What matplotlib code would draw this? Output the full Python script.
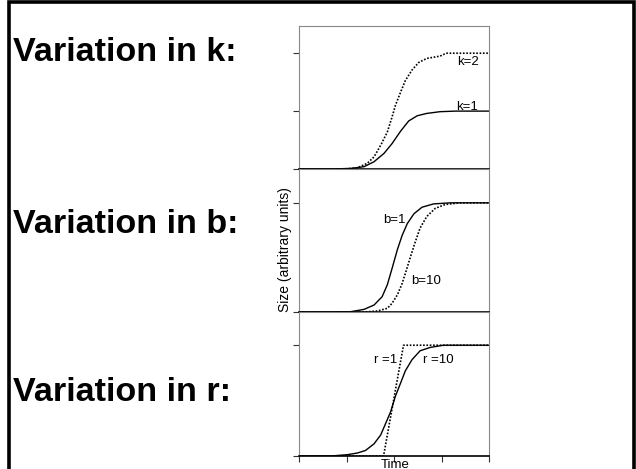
# Growth curve sketch: variation in k, b and r

import matplotlib.pyplot as plt
from matplotlib.patches import Rectangle

plt.rcParams['font.family'] = ['Liberation Sans', 'DejaVu Sans']

# values (time in arbitrary units 0-4)
k1_t = [0.0, 0.67, 1.09, 1.37, 1.58, 1.79, 1.96, 2.14, 2.31, 2.49, 2.69, 2.97, 3.3, 4.0]
k1_y = [0.0, 0.0, 0.01, 0.04, 0.126, 0.27, 0.44, 0.655, 0.83, 0.92, 0.96, 0.99, 1.0, 1.0]
k2_t = [0.0, 0.95, 1.23, 1.44, 1.58, 1.72, 1.86, 1.96, 2.03, 2.14, 2.24, 2.38, 2.52, 2.69, 2.97, 3.1, 4.0]
k2_y = [0.0, 0.0, 0.02, 0.10, 0.21, 0.41, 0.64, 0.90, 1.10, 1.33, 1.53, 1.71, 1.84, 1.91, 1.95, 2.0, 2.0]

b1_t = [0.0, 0.67, 1.09, 1.37, 1.58, 1.75, 1.86, 1.96, 2.07, 2.17, 2.28, 2.42, 2.59, 2.83, 3.18, 4.0]
b1_y = [0.0, 0.0, 0.003, 0.024, 0.064, 0.14, 0.25, 0.40, 0.57, 0.70, 0.81, 0.90, 0.96, 0.99, 1.0, 1.0]
b10_t = [0.0, 1.37, 1.65, 1.86, 1.96, 2.07, 2.17, 2.24, 2.35, 2.45, 2.55, 2.69, 2.87, 3.08, 3.39, 4.0]
b10_y = [0.0, 0.0, 0.009, 0.034, 0.08, 0.156, 0.26, 0.355, 0.51, 0.645, 0.77, 0.875, 0.95, 0.985, 1.0, 1.0]

r10_t = [0.0, 0.67, 1.02, 1.23, 1.40, 1.58, 1.72, 1.82, 1.93, 2.03, 2.14, 2.24, 2.38, 2.55, 2.76, 3.04, 4.0]
r10_y = [0.0, 0.0, 0.012, 0.027, 0.05, 0.11, 0.19, 0.29, 0.40, 0.54, 0.66, 0.77, 0.87, 0.95, 0.98, 1.0, 1.0]
r1_t = [0.0, 1.78, 2.2, 4.0]
r1_y = [0.0, 0.0, 1.0, 1.0]

panel_text = ['Variation in k:', 'Variation in b:', 'Variation in r:']

fig = plt.figure(figsize=(6.36, 4.69), dpi=100)

W, H = 636, 469
def box(top, bottom):
    return [299 / W, 1 - bottom / H, 190 / W, (bottom - top) / H]

ax1 = fig.add_axes(box(26, 169))
ax2 = fig.add_axes(box(169, 312))
ax3 = fig.add_axes(box(312, 456))

dot = (0, (1, 1))
white = dict(facecolor='white', edgecolor='none', pad=0.5)
ax1.plot(k1_t, k1_y, color='black', lw=1)
ax1.plot(k2_t, k2_y, color='black', lw=1.2, linestyle=dot)
ax1.text(3.54, 1.07, 'k=1', ha='center', va='center', fontsize=9.5)
ax1.text(3.55, 1.85, 'k=2', ha='center', va='center', fontsize=9.5, bbox=white)
ax1.set_ylim(0, 2.47)
ax1.set_yticks([0, 1, 2])

ax2.plot(b1_t, b1_y, color='black', lw=1)
ax2.plot(b10_t, b10_y, color='black', lw=1.2, linestyle=dot)
ax2.text(2.01, 0.844, 'b=1', ha='center', va='center', fontsize=9.5)
ax2.text(2.67, 0.287, 'b=10', ha='center', va='center', fontsize=9.5)
ax2.set_ylim(0, 1.31)
ax2.set_yticks([0, 1])

ax3.plot(r10_t, r10_y, color='black', lw=1)
ax3.plot(r1_t, r1_y, color='black', lw=1.2, linestyle=dot)
ax3.text(1.83, 0.865, 'r =1', ha='center', va='center', fontsize=9.5)
ax3.text(2.93, 0.865, 'r =10', ha='center', va='center', fontsize=9.5)
ax3.set_ylim(0, 1.3)
ax3.set_yticks([0, 1])

for ax in (ax1, ax2, ax3):
    ax.set_xlim(0, 4)
    ax.set_yticklabels([])
    ax.tick_params(direction='out', length=4, width=0.8, color='#333333')
    for side in ('left', 'right', 'top'):
        ax.spines[side].set_color('#888888')
        ax.spines[side].set_linewidth(0.8)
    ax.spines['bottom'].set_color('black')
    ax.spines['bottom'].set_linewidth(1.2)
    ax.set_zorder(2)

ax1.set_xticks([])
ax2.set_xticks([])
ax3.set_xticks([0, 1, 2, 3, 4])
ax3.set_xticklabels([])

fig.text(285 / W, 1 - 250 / H, 'Size (arbitrary units)', rotation=90,
         ha='center', va='center', fontsize=10)
fig.text(395 / W, 1 - 467.5 / H, 'Time', ha='center', va='baseline', fontsize=9.5)

for label, base in zip(panel_text, [61, 233.3, 400.7]):
    fig.text(13 / W, 1 - base / H, label, ha='left', va='baseline',
             fontsize=24.6, fontweight='bold')

# outer frame, open at the bottom edge
fig.add_artist(Rectangle((9 / W, -0.05), (634 - 9) / W, 1.05 - 2.5 / H,
                         transform=fig.transFigure, fill=False,
                         edgecolor='black', lw=2.6))

fig.savefig('out.png', dpi=100)
